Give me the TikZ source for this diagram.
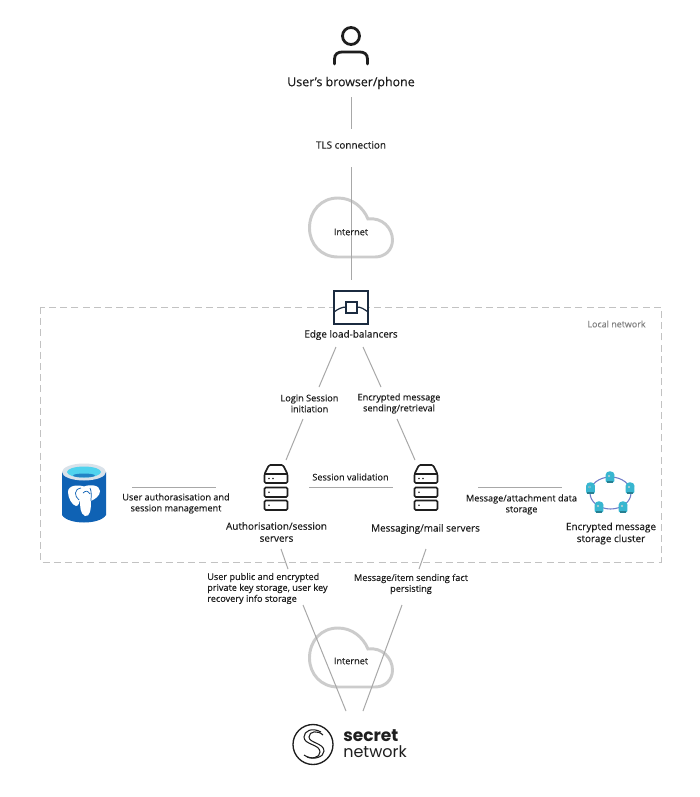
\documentclass[tikz,border=0pt]{standalone}
\usepackage{fontspec}
\setmainfont[FakeBold=0.25]{Open Sans}
\newfontfamily\logofont{Poppins}
\definecolor{linegray}{HTML}{A8A8A8}
\definecolor{cloudgray}{HTML}{CCCCCC}
\definecolor{dashgray}{HTML}{C2C2C2}
\definecolor{ink}{HTML}{1E1E1E}
\definecolor{navy}{HTML}{1B2B40}
\definecolor{pgblue}{HTML}{0F62B4}
\definecolor{pgrim}{HTML}{D9E2EA}
\definecolor{pgwater}{HTML}{4FD3EE}
\definecolor{ringblue}{HTML}{6F7CC9}
\definecolor{nodecyan}{HTML}{38B6D0}
\tikzset{
  conn/.style={draw=linegray,line width=0.75pt},
  lbl/.style={font=\fontsize{6.85pt}{8.2pt}\selectfont,text=ink,align=center,inner sep=0pt},
  lblwide/.style={font=\fontsize{7.45pt}{8.2pt}\selectfont,text=ink,align=center,inner sep=0pt},
  biglbl/.style={font=\fontsize{7.45pt}{9pt}\selectfont,text=ink,align=center,inner sep=0pt},
  srv/.style={draw=ink,line width=1.2pt,rounded corners=1pt,fill=white},
}
\newcommand{\cloudshape}[2]{%
  \draw[cloudgray,line width=2.2pt,shift={(#1,#2)}]
    (-13,32) .. controls (-30,32) and (-41.5,19) .. (-41.5,3)
    .. controls (-41.5,-14) and (-30,-27) .. (-13,-27)
    .. controls (1,-27) and (12,-18) .. (17,-6)
    .. controls (31,-8) and (41.5,3) .. (41.5,15)
    .. controls (41.5,25) and (34,32) .. (24,32) -- cycle;}
\newcommand{\serverico}[2]{%
  \begin{scope}[shift={(#1,#2)}]
    \draw[srv,line join=round] (-11.5,18) -- (-11.5,9) -- (-7,0) -- (7,0) -- (11.5,9) -- (11.5,18) -- cycle;
    \draw[ink,line width=1.2pt] (-11.5,9) -- (11.5,9);
    \fill[ink] (-7,13.5) circle (0.9) (-3,13.5) circle (0.9);
    \draw[srv] (-11.5,22.5) rectangle (11.5,32);
    \fill[ink] (-7,27.2) circle (0.9);
    \draw[srv] (-11.5,35.5) rectangle (11.5,45);
    \fill[ink] (-7,40.2) circle (0.9);
  \end{scope}}
\newcommand{\blob}[2]{%
  \fill[nodecyan,shift={(#1,#2)}] (-4.5,-2) .. controls (-4.5,-7) and (4.5,-7) .. (4.5,-2) -- (4.2,5) -- (-4.2,5) -- cycle;
  \fill[white,shift={(#1,#2)}] (-1,-1) circle (1.2);
  \fill[nodecyan!50!black,shift={(#1,#2)}] (-1,-1) circle (0.6);
  \fill[nodecyan!70!black,shift={(#1,#2)}] (-3.4,4) rectangle (3.4,6);}
\begin{document}
\begin{tikzpicture}[x=0.75pt,y=-0.75pt]
\useasboundingbox (0,0) rectangle (700,797);
\fill[white] (0,0) rectangle (700,797);

% local network
\draw[dashgray,line width=0.7pt,dash pattern=on 5.2pt off 3.2pt] (40,307) rectangle (661,562);
\node[font=\fontsize{6.7pt}{8pt}\selectfont,text=gray,inner sep=0pt] (localnet) at (616.5,324) {Local network};

% clouds
\cloudshape{351}{225}
\cloudshape{351}{655}

% user
\draw[ink,line width=2.1pt] (351,36) circle (8.5);
\draw[ink,line width=2.1pt,line cap=round] (334.5,64) -- (334.5,59) .. controls (334.5,54) and (338,52) .. (342,52) -- (360,52) .. controls (364,52) and (367.5,54) .. (367.5,59) -- (367.5,64);
\node[biglbl,font=\fontsize{9.3pt}{10pt}\selectfont] (user) at (351,83) {User's browser/phone};
\node[lblwide] (tls) at (351,145) {TLS connection};
\coordinate (t1) at (351,97); \coordinate (t2) at (351,129);
\coordinate (t3) at (351,167); \coordinate (t4) at (351,280);
\draw[conn] (t1) -- (t2);
\draw[conn] (t3) -- (t4);
\node[lbl] (inet1) at (351,232) {Internet};

% balancer
\draw[navy,line width=1.1pt,fill=white] (334,291) rectangle (368,324);
\draw[navy,line width=0.9pt] (334,312) .. controls (338,309) and (342,307) .. (346,307)
  (357,307) .. controls (361,307) and (364,309) .. (368,312);
\draw[navy,line width=0.9pt,fill=white] (346,302) rectangle (357,313);
\node[lblwide] (edge) at (351,335) {Edge load-balancers};

% upper links
\node[lbl] (login) at (309.5,403.5) {Login Session\\initiation};
\node[lbl] (enc) at (399,403.5) {Encrypted message\\sending/retrieval};
\coordinate (a1) at (336,347); \coordinate (a2) at (319,387);
\coordinate (a3) at (303,419); \coordinate (a4) at (286,460);
\coordinate (b1) at (363,347); \coordinate (b2) at (381,387);
\coordinate (b3) at (397,419); \coordinate (b4) at (415,460);
\draw[conn] (a1) -- (a2); \draw[conn] (a3) -- (a4);
\draw[conn] (b1) -- (b2); \draw[conn] (b3) -- (b4);

% database
\fill[pgblue] (62,472) -- (62,515) .. controls (68,525) and (100,525) .. (106,515) -- (106,472) -- cycle;
\fill[pgrim] (84,472) ellipse (22 and 8.5);
\fill[pgwater] (84,472) ellipse (17 and 5.5);
\fill[pgblue!70!pgwater] (84,475.5) ellipse (11 and 2);
\fill[white] (84,486.5) .. controls (78,484.5) and (68,485) .. (68,492)
  .. controls (68,498) and (72,505) .. (76,506) .. controls (79,506) and (79,502) .. (80,500)
  .. controls (80,506) and (80,514) .. (85,516) .. controls (90,517) and (91,510) .. (91,501)
  .. controls (95,499) and (100,496) .. (100,491) .. controls (100,485) and (90,484) .. (84,486.5) -- cycle;
\draw[pgblue,line width=0.55pt] (79,500) .. controls (74,496) and (74,489) .. (81,488)
  (91,501) .. controls (91,497) and (92,492) .. (90,488)
  (83,493) .. controls (86,490) and (88,491) .. (90,494);
\coordinate (c1) at (132,487); \coordinate (c2) at (216,487);
\draw[conn] (c1) -- (c2);
\node[lbl] (authmgmt) at (176,503.5) {User authorasisation and\\session management};

% servers
\serverico{276}{465}
\serverico{426}{465}
\node[biglbl] (authsrv) at (276.5,532) {Authorisation/session\\servers};
\node[biglbl] (mailsrv) at (425.5,529) {Messaging/mail servers};
\node[lbl] (sess) at (350.5,477) {Session validation};
\coordinate (d1) at (309,487); \coordinate (d2) at (393,487);
\draw[conn] (d1) -- (d2);

\coordinate (e1) at (478,487); \coordinate (e2) at (562,487);
\draw[conn] (e1) -- (e2);
\node[lbl] (msgdata) at (521.5,504.5) {Message/attachment data\\storage};

% cluster
\draw[ringblue,line width=0.8pt] (610.5,493) ellipse (20.5 and 16);
\blob{610}{477}\blob{590.5}{488}\blob{630}{488}\blob{599}{507}\blob{623}{507}
\node[biglbl] (cluster) at (611,533.5) {Encrypted message\\storage cluster};

% lower links
\coordinate (f1) at (281,549); \coordinate (f2) at (288,569);
\coordinate (f3) at (303,605); \coordinate (f4) at (346,711);
\coordinate (g1) at (426,549); \coordinate (g2) at (419,569);
\coordinate (g3) at (402,605); \coordinate (g4) at (363,711);
\draw[conn] (f1) -- (f2); \draw[conn] (f3) -- (f4);
\draw[conn] (g1) -- (g2); \draw[conn] (g3) -- (g4);
\node[lbl,align=left,anchor=west] (keys) at (207,588.5) {User public and encrypted\\private key storage, user key\\recovery info storage};
\node[lbl] (fact) at (411,584) {Message/item sending fact\\persisting};
\node[lbl] (inet2) at (351,661) {Internet};

% logo
\draw[ink,line width=1pt] (313,744.5) circle (20);
\draw[ink,line width=0.8pt] (321,732) .. controls (312,727) and (304,731) .. (304,737) .. controls (304,745) and (320,744) .. (320,752) .. controls (320,758) and (311,760) .. (304,755);
\draw[ink,line width=0.8pt] (323,735) .. controls (318,730) and (309,731) .. (309,737) .. controls (309,743) and (324,743) .. (324,751) .. controls (324,757) and (314,760) .. (307,757);
\node[font=\logofont\fontsize{12.8pt}{14pt}\selectfont\bfseries,text=ink,anchor=base west,inner sep=0pt] (secret) at (343,741) {secret};
\node[font=\logofont\fontsize{12pt}{14pt}\selectfont,text=ink,anchor=base west,inner sep=0pt] (network) at (343,757) {network};
\end{tikzpicture}
\end{document}
